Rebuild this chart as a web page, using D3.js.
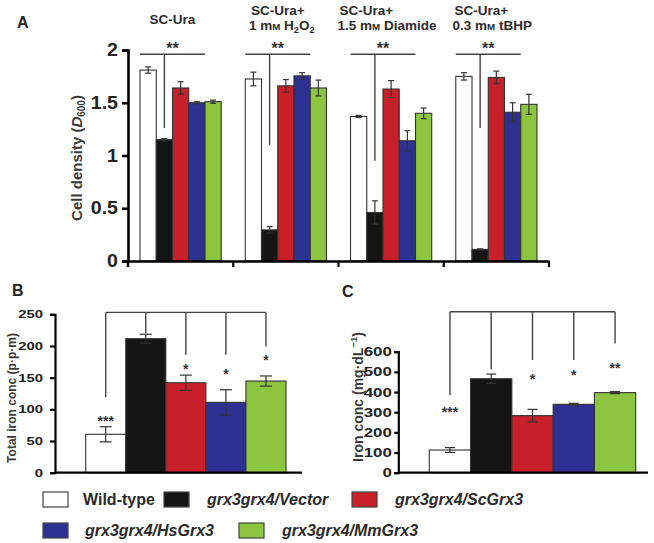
<!DOCTYPE html>
<html><head><meta charset="utf-8">
<script src="https://cdn.jsdelivr.net/npm/d3@7"></script>
<style>
body{margin:0;background:#fff}
svg{display:block}
text{font-family:"Liberation Sans",Arial,Helvetica,sans-serif}
</style>
</head><body>
<svg id="chart" width="654" height="543"></svg>
<script>
// ---------- DATA ----------
const strains = ["Wild-type","grx3grx4/Vector","grx3grx4/ScGrx3","grx3grx4/HsGrx3","grx3grx4/MmGrx3"];
const strainColors = ["#ffffff","#151515","#c8202b","#2e3192","#8dc540"];

const conditions = ["SC-Ura","H2O2","Diamide","tBHP"];
const titleLine1 = ["SC-Ura","SC-Ura+","SC-Ura+","SC-Ura+"];
const titleLine2 = ["","1 m{M} H_2O_2","1.5 m{M} Diamide","0.3 m{M} tBHP"];

const densitySCUra   = [1.81, 1.15, 1.64, 1.50, 1.51];
const densityH2O2    = [1.725, 0.295, 1.66, 1.755, 1.64];
const densityDiamide = [1.37, 0.46, 1.63, 1.14, 1.40];
const densityTBHP    = [1.75, 0.11, 1.74, 1.41, 1.485];
const errSCUra   = [0.03, 0.01, 0.06, 0.01, 0.015];
const errH2O2    = [0.065, 0.03, 0.06, 0.03, 0.075];
const errDiamide = [0.01, 0.11, 0.08, 0.095, 0.05];
const errTBHP    = [0.035, 0.005, 0.06, 0.09, 0.095];
const densityTicks = [0, 0.5, 1, 1.5, 2];
const densityTickLabels = ["0","0.5","1","1.5","2"];
const sigA = ["**","**","**","**"];
const sigDropA = [1.26, 1.10, 0.95, 1.26];
const bracketA = 1.96;

const ironTotal    = [60.6, 211.5, 142, 111, 144.7];
const ironTotalErr = [12, 7, 12, 20, 8];
const ironTotalTicks = [0, 50, 100, 150, 200, 250];
const sigB = ["***","","*","*","*"];
const sigLevelB = [88, null, 170, 162, 184];
const dropB = [119, 220, 186, 186, 199];
const bracketB = 253;

const ironConc    = [112.5, 466, 283, 339, 397];
const ironConcErr = [12, 23, 31, 5, 5];
const ironConcTicks = [0, 100, 200, 300, 400, 500, 600];
const sigC = ["***","","*","*","**"];
const sigLevelC = [321, null, 484, 501, 539];
const dropC = [385, 513, 559, 559, 641];
const bracketC = 798;

// ---------- DRAW ----------
const svg = d3.select("#chart");
const ink = "#2b2b2b";

function richText(sel, str, size){
  const re = /\{([^}]*)\}|_(\w)|([^{_]+)/g;
  let m, pendingDy = 0;
  while((m = re.exec(str)) !== null){
    if(m[1] !== undefined){
      sel.append("tspan").attr("font-size", size*0.72).attr("dy", pendingDy).text(m[1]); pendingDy = 0;
    } else if(m[2] !== undefined){
      sel.append("tspan").attr("font-size", size*0.68).attr("dy", 3 + pendingDy).text(m[2]); pendingDy = -3;
    } else {
      sel.append("tspan").attr("dy", pendingDy).text(m[3]); pendingDy = 0;
    }
  }
}

function styleAxis(g, w, fs, sx){
  g.select(".domain").attr("stroke","#000").attr("stroke-width", w);
  g.selectAll(".tick line").attr("stroke","#000").attr("stroke-width", w);
  g.selectAll(".tick text").attr("font-size", fs).attr("font-weight","bold").attr("fill","#222")
    .attr("font-family",'"Liberation Sans",Arial,sans-serif');
  if(sx){
    g.selectAll(".tick text").each(function(){
      const t = d3.select(this); const x = +t.attr("x");
      t.attr("x", x/sx).attr("transform", `scale(${sx},1)`);
    });
  }
}

function drawBars(g, vals, errs, x, y, capW){
  const bw = x.bandwidth();
  g.selectAll("rect.bar").data(vals).join("rect").attr("class","bar")
    .attr("x",(d,i)=>x(strains[i])).attr("y",d=>y(d))
    .attr("width",bw).attr("height",d=>y(0)-y(d))
    .attr("fill",(d,i)=>strainColors[i]).attr("stroke","#333").attr("stroke-width",1.1);
  const eb = g.selectAll("g.err").data(vals).join("g").attr("class","err");
  eb.append("line").attr("x1",(d,i)=>x(strains[i])+bw/2).attr("x2",(d,i)=>x(strains[i])+bw/2)
    .attr("y1",(d,i)=>y(d-errs[i])).attr("y2",(d,i)=>y(d+errs[i]));
  eb.append("line").attr("x1",(d,i)=>x(strains[i])+bw/2-capW/2).attr("x2",(d,i)=>x(strains[i])+bw/2+capW/2)
    .attr("y1",(d,i)=>y(d+errs[i])).attr("y2",(d,i)=>y(d+errs[i]));
  eb.append("line").attr("x1",(d,i)=>x(strains[i])+bw/2-capW/2).attr("x2",(d,i)=>x(strains[i])+bw/2+capW/2)
    .attr("y1",(d,i)=>y(d-errs[i])).attr("y2",(d,i)=>y(d-errs[i]));
  eb.selectAll("line").attr("stroke","#333").attr("stroke-width",1.2);
}

// ===== Panel A =====
const densities = [densitySCUra, densityH2O2, densityDiamide, densityTBHP];
const densErrs = [errSCUra, errH2O2, errDiamide, errTBHP];
const x0 = d3.scaleBand().domain(conditions).range([128,549]);
const x1 = d3.scaleBand().domain(strains).range([0,x0.bandwidth()]).paddingOuter(0.74);
const yA = d3.scaleLinear().domain([0,2]).range([261,50]);

svg.append("text").attr("x",17).attr("y",28).attr("font-size",16).attr("font-weight","bold").attr("fill","#222").text("A");

conditions.forEach((c,ci)=>{
  const g = svg.append("g").attr("transform",`translate(${x0(c)},0)`);
  drawBars(g, densities[ci], densErrs[ci], x1, yA, 6);
  const bx1 = x1(strains[0]), bx2 = x1(strains[3]) + x1.bandwidth();
  const cx = x1(strains[1]) + x1.bandwidth()/2;
  g.append("line").attr("x1",bx1).attr("x2",bx2).attr("y1",yA(bracketA)).attr("y2",yA(bracketA))
    .attr("stroke","#444").attr("stroke-width",1.4);
  g.append("line").attr("x1",cx).attr("x2",cx).attr("y1",yA(bracketA)).attr("y2",yA(sigDropA[ci]))
    .attr("stroke","#444").attr("stroke-width",1.4);
  const mid = (bx1+bx2)/2;
  g.append("text").attr("x",mid).attr("y",54).attr("text-anchor","middle").attr("font-size",16)
    .attr("font-weight","bold").attr("fill","#333").text(sigA[ci]);
  // titles
  if(titleLine2[ci] === ""){
    g.append("text").attr("x",mid).attr("y",24).attr("text-anchor","middle").attr("font-size",13.5)
      .attr("font-weight","bold").attr("fill",ink).text(titleLine1[ci]);
  } else {
    const t2 = g.append("text").attr("y",30).attr("font-size",13.5).attr("font-weight","bold").attr("fill",ink);
    richText(t2, titleLine2[ci], 13.5);
    const w = t2.node().getComputedTextLength();
    const sx = mid + 4 - w/2;
    t2.attr("x", sx);
    t2.select("tspan").attr("x", sx);
    g.append("text").attr("x",sx+2).attr("y",15).attr("font-size",13.5).attr("font-weight","bold")
      .attr("fill",ink).text(titleLine1[ci]);
  }
});

// axes A
const gyA = svg.append("g").attr("transform","translate(128,0)")
  .call(d3.axisLeft(yA).tickValues(densityTicks).tickFormat((d,i)=>densityTickLabels[i]).tickSize(6).tickPadding(4));
styleAxis(gyA, 2.6, 17.5, 1.12);
svg.append("line").attr("x1",128).attr("x2",128).attr("y1",261).attr("y2",267).attr("stroke","#000").attr("stroke-width",2.6);
const gxA = svg.append("g").attr("transform","translate(0,261)")
  .call(d3.axisBottom(x0).tickSize(0).tickSizeOuter(0).tickFormat(""));
gxA.select(".domain").attr("stroke","#000").attr("stroke-width",2.4);
svg.append("g").selectAll("line").data(conditions).join("line")
  .attr("x1",d=>x0(d)+x0.bandwidth()).attr("x2",d=>x0(d)+x0.bandwidth())
  .attr("y1",261).attr("y2",267).attr("stroke","#000").attr("stroke-width",2.2);

// y label A
const ylA = svg.append("text").attr("transform","translate(82,158) rotate(-90)").attr("text-anchor","middle")
  .attr("font-size",15).attr("font-weight","bold").attr("fill","#3a3a3a");
ylA.append("tspan").text("Cell density (");
ylA.append("tspan").attr("font-style","italic").text("D");
ylA.append("tspan").attr("font-size",10).attr("dy",3).text("600");
ylA.append("tspan").attr("dy",-3).text(")");

// ===== Panel B =====
const xB = d3.scaleBand().domain(strains).range([85.7,286]);
const yB = d3.scaleLinear().domain([0,250]).range([472.7,314.3]);
svg.append("text").attr("x",12).attr("y",296).attr("font-size",16).attr("font-weight","bold").attr("fill","#222").text("B");
const gB = svg.append("g");
drawBars(gB, ironTotal, ironTotalErr, xB, yB, 12);
function brackets(g, x, y, top, drops, sig, lev, fs){
  const c = i => x(strains[i]) + x.bandwidth()/2;
  g.append("line").attr("x1",c(0)).attr("x2",c(4)).attr("y1",y(top)).attr("y2",y(top)).attr("stroke","#444").attr("stroke-width",1.4);
  strains.forEach((s,i)=>{
    g.append("line").attr("x1",c(i)).attr("x2",c(i)).attr("y1",y(top)).attr("y2",y(drops[i])).attr("stroke","#444").attr("stroke-width",1.4);
    if(sig[i]) g.append("text").attr("x",c(i)).attr("y",y(lev[i])+fs*0.62).attr("text-anchor","middle")
      .attr("font-size",fs).attr("font-weight","bold").attr("fill","#333").text(sig[i]);
  });
}
brackets(gB, xB, yB, bracketB, dropB, sigB, sigLevelB, 14);
const gyB = svg.append("g").attr("transform","translate(55,0)")
  .call(d3.axisLeft(yB).tickValues(ironTotalTicks).tickSize(5).tickPadding(7));
styleAxis(gyB, 2.2, 11, 1.35);
svg.append("line").attr("x1",55).attr("x2",302).attr("y1",472.7).attr("y2",472.7).attr("stroke","#000").attr("stroke-width",2.2);
svg.append("text").attr("transform","translate(15.5,398) rotate(-90)").attr("text-anchor","middle")
  .attr("font-size",12).attr("font-weight","bold").attr("fill","#3a3a3a").text("Total iron conc (p·p·m)");

// ===== Panel C =====
const xC = d3.scaleBand().domain(strains).range([429.3,635.7]);
const yC = d3.scaleLinear().domain([0,600]).range([472.7,351.7]);
svg.append("text").attr("x",342).attr("y",297).attr("font-size",16).attr("font-weight","bold").attr("fill","#222").text("C");
const gC = svg.append("g");
drawBars(gC, ironConc, ironConcErr, xC, yC, 10);
brackets(gC, xC, yC, bracketC, dropC, sigC, sigLevelC, 14);
const gyC = svg.append("g").attr("transform","translate(398.3,0)")
  .call(d3.axisLeft(yC).tickValues(ironConcTicks).tickSize(4).tickPadding(2.5));
styleAxis(gyC, 2.2, 12.5, 1.35);
svg.append("line").attr("x1",398.3).attr("x2",648).attr("y1",472.7).attr("y2",472.7).attr("stroke","#000").attr("stroke-width",2.2);
const ylC = svg.append("text").attr("transform","translate(363,397) rotate(-90)").attr("text-anchor","middle")
  .attr("font-size",14).attr("font-weight","bold").attr("fill","#3a3a3a");
ylC.append("tspan").text("Iron conc (mg·dL");
ylC.append("tspan").attr("font-size",9.5).attr("dy",-6).text("−1");
ylC.append("tspan").attr("dy",6).text(")");

// ===== Legend =====
const legendPos = [[43,492,83,505],[164,492,207,505],[352,492,395,505],[43,523,85,536],[239,523,282,536]];
strains.forEach((s,i)=>{
  const p = legendPos[i];
  svg.append("rect").attr("x",p[0]).attr("y",p[1]).attr("width",25).attr("height",15)
    .attr("fill",strainColors[i]).attr("stroke","#444").attr("stroke-width",1.2);
  svg.append("text").attr("x",p[2]).attr("y",p[3]).attr("font-size",16).attr("font-weight","bold")
    .attr("font-style", i===0 ? "normal" : "italic").attr("fill","#2a2a2a").text(s);
});
</script>
</body></html>
